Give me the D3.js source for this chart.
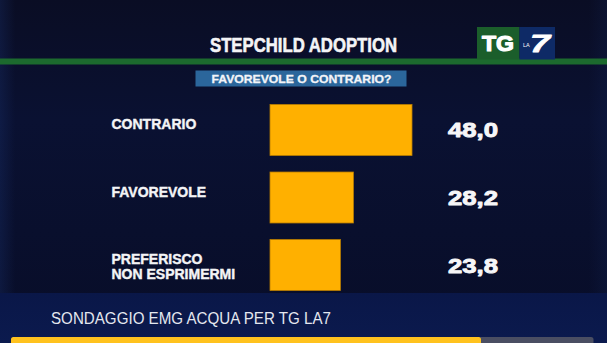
<!DOCTYPE html>
<html>
<head>
<meta charset="utf-8">
<script src="https://cdn.jsdelivr.net/npm/d3@7"></script>
<style>
  html, body { margin: 0; padding: 0; background: #0a1030; }
  svg { display: block; }
</style>
</head>
<body>
<div id="chart"></div>
<script>
// Poll data
const categories = ["CONTRARIO", "FAVOREVOLE", "PREFERISCO\nNON ESPRIMERMI"];
const values = [48.0, 28.2, 23.8];
const valueLabels = ["48,0", "28,2", "23,8"];
const title = "STEPCHILD ADOPTION";
const question = "FAVOREVOLE O CONTRARIO?";
const source = "SONDAGGIO EMG ACQUA PER TG LA7";

const W = 607, H = 343;
const FONT = "Liberation Sans, Arial, sans-serif";
const svg = d3.select("#chart").append("svg")
  .attr("width", W).attr("height", H);

const defs = svg.append("defs");
const bg = defs.append("linearGradient").attr("id", "bg")
  .attr("x1", 0).attr("y1", 0).attr("x2", 0).attr("y2", 1);
bg.append("stop").attr("offset", "0%").attr("stop-color", "#0a0d24");
bg.append("stop").attr("offset", "35%").attr("stop-color", "#0a1132");
bg.append("stop").attr("offset", "100%").attr("stop-color", "#080d28");

const side = defs.append("linearGradient").attr("id", "side")
  .attr("x1", 0).attr("y1", 0).attr("x2", 1).attr("y2", 0);
side.append("stop").attr("offset", "0%").attr("stop-color", "#1a3370").attr("stop-opacity", 0.3);
side.append("stop").attr("offset", "2.5%").attr("stop-color", "#1a3370").attr("stop-opacity", 0.0);
side.append("stop").attr("offset", "97%").attr("stop-color", "#1a3370").attr("stop-opacity", 0.0);
side.append("stop").attr("offset", "100%").attr("stop-color", "#1a3370").attr("stop-opacity", 0.15);

const band = defs.append("linearGradient").attr("id", "band")
  .attr("x1", 0).attr("y1", 0).attr("x2", 0).attr("y2", 1);
band.append("stop").attr("offset", "0%").attr("stop-color", "#0a1748");
band.append("stop").attr("offset", "100%").attr("stop-color", "#0b1a4e");

// Background
svg.append("rect").attr("width", W).attr("height", H).attr("fill", "url(#bg)");
svg.append("rect").attr("width", W).attr("height", H).attr("fill", "url(#side)");

// Bold helper: slight outline gives the heavy broadcast weight
function heavy(sel, w) {
  return sel.attr("font-family", FONT).attr("font-weight", "bold")
    .attr("stroke", sel.attr("fill")).attr("stroke-width", w)
    .attr("stroke-linejoin", "round");
}

// Header
heavy(svg.append("text")
  .attr("x", 303.5).attr("y", 51.5)
  .attr("text-anchor", "middle")
  .attr("textLength", 187).attr("lengthAdjust", "spacingAndGlyphs")
  .attr("font-size", 20)
  .attr("fill", "#f4f4f6"), 0.6)
  .text(title);

svg.append("rect").attr("x", 0).attr("y", 58.5).attr("width", W).attr("height", 6)
  .attr("fill", "#1c6a2e");

// Channel logo
const logo = svg.append("g");
logo.append("rect").attr("x", 477).attr("y", 27).attr("width", 42.5).attr("height", 32.5)
  .attr("fill", "#1b5e2b");
logo.append("rect").attr("x", 519.5).attr("y", 27).attr("width", 35.5).attr("height", 32.5)
  .attr("fill", "#0e2a66");
heavy(logo.append("text").attr("x", 482).attr("y", 50.5)
  .attr("textLength", 32).attr("lengthAdjust", "spacingAndGlyphs")
  .attr("font-size", 22)
  .attr("fill", "#ffffff"), 1.2).text("TG");
logo.append("text").attr("x", 523).attr("y", 47)
  .attr("font-family", FONT)
  .attr("font-size", 5.5).attr("fill", "#ffffff").text("LA");
heavy(logo.append("text").attr("x", 530).attr("y", 51.5)
  .attr("textLength", 20).attr("lengthAdjust", "spacingAndGlyphs")
  .attr("font-style", "italic").attr("font-size", 24)
  .attr("fill", "#ffffff"), 0.8).text("7");

// Question box
svg.append("rect").attr("x", 195.5).attr("y", 70.5).attr("width", 211).attr("height", 16)
  .attr("fill", "#2b669b");
heavy(svg.append("text").attr("x", 301.5).attr("y", 82.5)
  .attr("text-anchor", "middle")
  .attr("textLength", 180).attr("lengthAdjust", "spacingAndGlyphs")
  .attr("font-size", 11.5)
  .attr("fill", "#f2f4f8"), 0.3).text(question);

// Scales
const y = d3.scaleBand().domain(categories).range([104.5, 290.5])
  .paddingInner(0.245).paddingOuter(0);
const x = d3.scaleLinear().domain([0, 48]).range([270, 412]);

const rows = svg.append("g").selectAll("g").data(categories).join("g");

rows.append("rect")
  .attr("x", x(0))
  .attr("y", d => y(d))
  .attr("width", (d, i) => x(values[i]) - x(0))
  .attr("height", y.bandwidth())
  .attr("fill", "#ffb000")
  .attr("stroke", "#b87d00").attr("stroke-width", 0.8);

// Category labels
rows.append("text")
  .attr("x", 111.5)
  .attr("y", d => y(d) + 24.5)
  .attr("font-family", FONT)
  .attr("font-weight", "bold").attr("font-size", 14)
  .attr("fill", "#f4f4f6")
  .attr("stroke", "#f4f4f6").attr("stroke-width", 0.4)
  .each(function (d) {
    const t = d3.select(this);
    d.split("\n").forEach((line, k) => {
      t.append("tspan").attr("x", 111.5).attr("dy", k === 0 ? 0 : 15).text(line);
    });
  });

// Value labels
rows.append("text")
  .attr("x", 448)
  .attr("y", d => y(d) + y.bandwidth() / 2 + 7.5)
  .attr("textLength", 50).attr("lengthAdjust", "spacingAndGlyphs")
  .attr("font-family", FONT)
  .attr("font-weight", "bold").attr("font-size", 20.5)
  .attr("fill", "#f6f6f8")
  .attr("stroke", "#f6f6f8").attr("stroke-width", 0.9).attr("stroke-linejoin", "round")
  .text((d, i) => valueLabels[i]);

// Footer band
svg.append("rect").attr("x", 0).attr("y", 293).attr("width", W).attr("height", H - 293)
  .attr("fill", "url(#band)");
svg.append("text").attr("x", 51).attr("y", 323.5)
  .attr("textLength", 280).attr("lengthAdjust", "spacingAndGlyphs")
  .attr("font-family", FONT)
  .attr("font-size", 16)
  .attr("fill", "#e4e7ef").text(source);

// Progress strip
svg.append("rect").attr("x", 11).attr("y", 337).attr("width", 582.5).attr("height", 8)
  .attr("rx", 2.5).attr("fill", "#4a4e62");
svg.append("rect").attr("x", 11).attr("y", 337).attr("width", 470).attr("height", 8)
  .attr("rx", 2.5).attr("fill", "#ffc21e");
</script>
</body>
</html>
